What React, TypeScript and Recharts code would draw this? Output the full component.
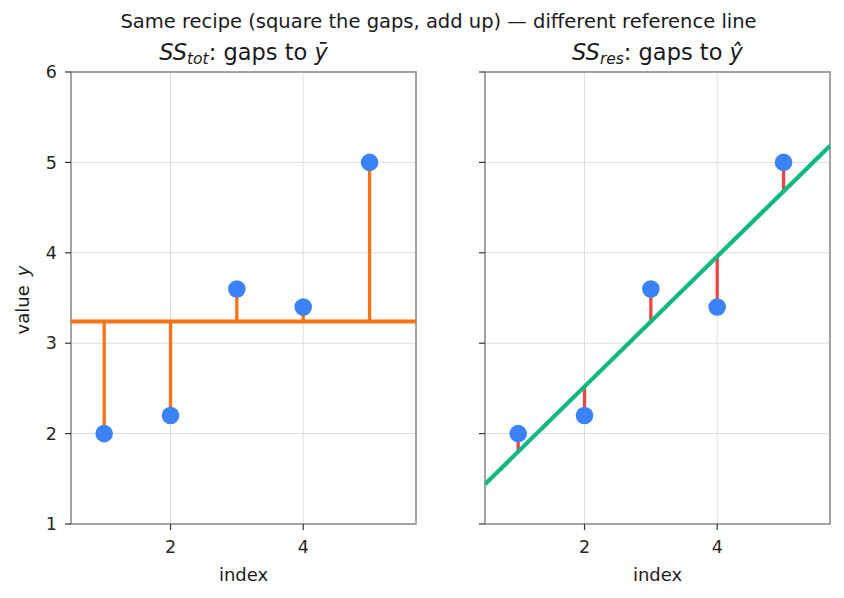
import React from "react";
import {
  ComposedChart,
  Line,
  Scatter,
  XAxis,
  YAxis,
  CartesianGrid,
  ReferenceArea,
} from "recharts";

const indices = [1, 2, 3, 4, 5];
const values = [2, 2.2, 3.6, 3.4, 5];
const xDomain: [number, number] = [0.5, 5.7];
const yDomain: [number, number] = [1, 6];
const xTicks = [2, 4];
const yTicks = [1, 2, 3, 4, 5, 6];

const FONT = "'DejaVu Sans', 'Liberation Sans', sans-serif";
const BLUE = "#3b82f6";
const ORANGE = "#f97316";
const GREEN = "#10b981";
const RED = "#ef4444";

const n = indices.length;
const xMean = indices.reduce((a, b) => a + b, 0) / n;
const yMean = values.reduce((a, b) => a + b, 0) / n;
const slope =
  indices.reduce((s, x, i) => s + (x - xMean) * (values[i] - yMean), 0) /
  indices.reduce((s, x) => s + (x - xMean) * (x - xMean), 0);
const intercept = yMean - slope * xMean;
const fit = (x: number) => intercept + slope * x;

const points = indices.map((x, i) => ({ x, y: values[i] }));

const tickStyle = { fontSize: 17.5, fontFamily: FONT, fill: "#262626" };

const Dot = (props: any) => {
  const { cx, cy } = props;
  if (cx == null || cy == null) return <g />;
  return <circle cx={cx} cy={cy} r={8.8} fill={BLUE} />;
};

function Panel({ kind }: { kind: "tot" | "res" }) {
  const isTot = kind === "tot";
  const stemColor = isTot ? ORANGE : RED;
  const stems = indices.map((x, i) => [
    { x, y: values[i] },
    { x, y: isTot ? yMean : fit(x) },
  ]);
  const refLine = isTot
    ? [
        { x: xDomain[0], y: yMean },
        { x: xDomain[1], y: yMean },
      ]
    : [
        { x: xDomain[0], y: fit(xDomain[0]) },
        { x: xDomain[1], y: fit(xDomain[1]) },
      ];
  return (
    <ComposedChart
      width={422}
      height={598}
      margin={
        isTot
          ? { top: 72, right: 6, bottom: 44, left: 31 }
          : { top: 72, right: 14, bottom: 44, left: 23 }
      }
    >
      <CartesianGrid stroke="#d4d4d4" strokeWidth={0.8} />
      <XAxis
        type="number"
        dataKey="x"
        domain={xDomain}
        ticks={xTicks}
        allowDataOverflow
        height={30}
        axisLine={false}
        tickLine={{ stroke: "#333", strokeWidth: 1.2 }}
        tickSize={6}
        tick={tickStyle}
        tickMargin={11}
      />
      <YAxis
        type="number"
        dataKey="y"
        domain={yDomain}
        ticks={yTicks}
        allowDataOverflow
        width={40}
        axisLine={false}
        tickLine={{ stroke: "#333", strokeWidth: 1.2 }}
        tickSize={6}
        tick={tickStyle}
        tickMargin={8}
        tickFormatter={isTot ? (v: number) => String(v) : () => ""}
      />
      {stems.map((d, i) => (
        <Line
          key={"stem" + i}
          data={d}
          dataKey="y"
          stroke={stemColor}
          strokeWidth={3.3}
          dot={false}
          activeDot={false}
          isAnimationActive={false}
        />
      ))}
      <Line
        data={refLine}
        dataKey="y"
        stroke={isTot ? ORANGE : GREEN}
        strokeWidth={isTot ? 4 : 4.2}
        dot={false}
        activeDot={false}
        isAnimationActive={false}
      />
      <Scatter data={points} dataKey="y" shape={Dot} isAnimationActive={false} />
      <ReferenceArea
        x1={xDomain[0]}
        x2={xDomain[1]}
        y1={yDomain[0]}
        y2={yDomain[1]}
        fill="none"
        fillOpacity={0}
        stroke="#8a8a8a"
        strokeWidth={1.5}
      />
    </ComposedChart>
  );
}

export default function App() {
  return (
    <div
      style={{
        position: "absolute",
        left: 0,
        top: 0,
        width: 844,
        height: 598,
        background: "#fff",
        fontFamily: FONT,
      }}
    >
      <div style={{ position: "absolute", left: 0, top: 0 }}>
        <Panel kind="tot" />
      </div>
      <div style={{ position: "absolute", left: 422, top: 0 }}>
        <Panel kind="res" />
      </div>
      <svg
        width={844}
        height={598}
        style={{ position: "absolute", left: 0, top: 0, pointerEvents: "none" }}
        fontFamily={FONT}
      >
        <text x={438.5} y={28} textAnchor="middle" fontSize={19.5} fill="#1a1a1a">
          Same recipe (square the gaps, add up) — different reference line
        </text>
        <text x={243.5} y={60} textAnchor="middle" fontSize={22.5} fill="#1a1a1a">
          <tspan fontStyle="italic">SS</tspan>
          <tspan fontStyle="italic" fontSize={15.5} dy={4}>tot</tspan>
          <tspan dy={-4}>: gaps to </tspan>
          <tspan fontStyle="italic">ȳ</tspan>
        </text>
        <text x={657.5} y={60} textAnchor="middle" fontSize={22.5} fill="#1a1a1a">
          <tspan fontStyle="italic">SS</tspan>
          <tspan fontStyle="italic" fontSize={15.5} dy={4}>res</tspan>
          <tspan dy={-4}>: gaps to </tspan>
          <tspan fontStyle="italic">ŷ</tspan>
        </text>
        <text x={243.5} y={581} textAnchor="middle" fontSize={18} fill="#1a1a1a">
          index
        </text>
        <text x={657.5} y={581} textAnchor="middle" fontSize={18} fill="#1a1a1a">
          index
        </text>
        <text
          x={29}
          y={300}
          textAnchor="middle"
          fontSize={18}
          fill="#1a1a1a"
          transform="rotate(-90 29 300)"
        >
          value<tspan dx={9} fontStyle="italic">y</tspan>
        </text>
      </svg>
    </div>
  );
}
